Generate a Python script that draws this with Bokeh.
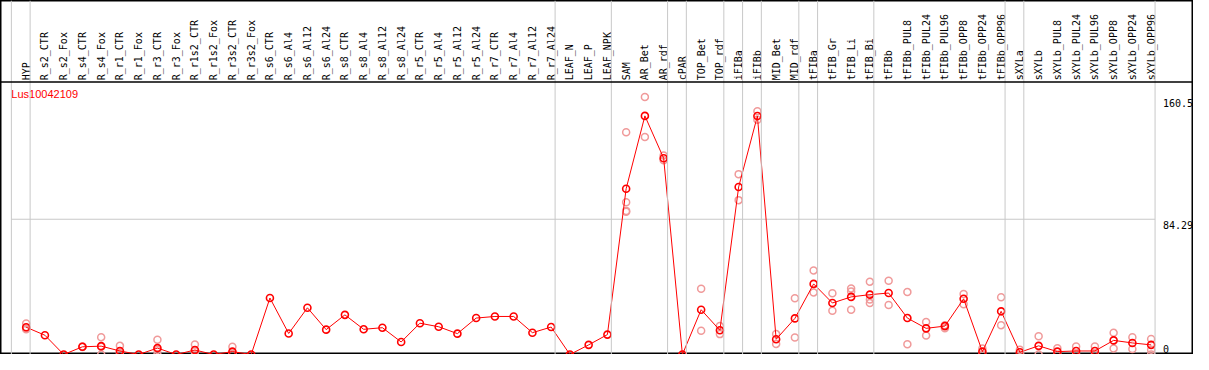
import numpy as np
from bokeh.plotting import figure
from bokeh.models import Range1d, Span, ColumnDataSource
from bokeh.core.properties import value
from bokeh.embed import file_html
from bokeh.resources import INLINE

GENE = "Lus10042109"

CATEGORIES = [
    "HYP", "R_s2_CTR", "R_s2_Fox", "R_s4_CTR", "R_s4_Fox", "R_r1_CTR", "R_r1_Fox",
    "R_r3_CTR", "R_r3_Fox", "R_r1s2_CTR", "R_r1s2_Fox", "R_r3s2_CTR", "R_r3s2_Fox",
    "R_s6_CTR", "R_s6_Al4", "R_s6_Al12", "R_s6_Al24", "R_s8_CTR", "R_s8_Al4",
    "R_s8_Al12", "R_s8_Al24", "R_r5_CTR", "R_r5_Al4", "R_r5_Al12", "R_r5_Al24",
    "R_r7_CTR", "R_r7_Al4", "R_r7_Al12", "R_r7_Al24", "LEAF_N", "LEAF_P", "LEAF_NPK",
    "SAM", "AR_Bet", "AR_rdf", "cPAR", "TOP_Bet", "TOP_rdf", "iFIBa", "iFIBb",
    "MID_Bet", "MID_rdf", "tFIBa", "tFIB_Gr", "tFIB_Li", "tFIB_Bi", "tFIBb",
    "tFIBb_PUL8", "tFIBb_PUL24", "tFIBb_PUL96", "tFIBb_OPP8", "tFIBb_OPP24",
    "tFIBb_OPP96", "sXYLa", "sXYLb", "sXYLb_PUL8", "sXYLb_PUL24", "sXYLb_PUL96",
    "sXYLb_OPP8", "sXYLb_OPP24", "sXYLb_OPP96",
]

MEANS = [
    17.0, 12.0, 0.0, 4.8, 5.2, 2.2, 0.0, 4.0, 0.0, 2.8, 0.0, 1.8, 0.0,
    35.2, 13.1, 29.1, 15.5, 24.7, 15.7, 16.7, 7.8, 19.5, 17.3, 13.0, 22.7,
    23.7, 23.7, 13.6, 17.1, 0.0, 6.0, 12.4,
    103.3, 148.7, 122.3, 0.0, 27.9, 15.1, 104.4, 148.6, 9.5, 22.5,
    44.0, 32.1, 35.9, 37.3, 38.3, 22.7, 16.3, 17.7, 34.7, 1.8, 26.9,
    1.4, 5.4, 1.8, 2.2, 2.2, 8.8, 7.2, 6.0,
]

REPLICATES = [
    [19.3, 15.7, 16.2], [], [], [4.6, 5.0], [10.8, 0.0, 4.8], [5.4, 0.0, 1.2], [],
    [9.2, 0.0, 2.8], [], [6.2, 0.0, 2.2], [], [4.8, 0.0, 0.6], [],
    [], [], [], [], [], [], [], [], [], [], [], [], [], [], [], [], [], [], [],
    [138.5, 94.9, 89.5, 89.0], [160.5, 135.5], [124.0, 121.0], [],
    [41.0, 14.8], [17.7, 12.7], [112.4, 96.2], [151.6, 146.3],
    [12.7, 6.6], [35.1, 10.6], [52.4, 38.7], [38.1, 27.3], [41.2, 39.2, 27.9],
    [45.4, 34.3, 32.1], [46.0, 30.9], [38.9, 6.4], [20.3, 11.8], [18.3, 16.3],
    [37.7, 31.3], [3.8, 0.0], [35.7, 18.3], [3.0, 0.0], [11.4, 0.0], [3.9, 0.0],
    [5.0, 0.0], [5.0, 0.0], [13.5, 3.8], [10.8, 3.4], [9.6, 3.0, 0.0],
]

GROUP_SIZES = [1, 28, 3, 3, 1, 2, 1, 1, 2, 1, 3, 7, 1, 7]
Y_TICKS = [0, 84.29, 160.5]
MID_TICK = [84.29]

# ---- layout constants ----
X_START, X_END = -1.37, 62.26
Y_START, Y_END = 0.0, 220.6
HEADER_LINE_Y = 169.75
HEADER_LABEL_Y = 170.9
SEP_OFFSET = 0.21
RED = "#ff0000"
PINK = "#f09a9a"
GRAY = "#c8c8c8"

xs = list(range(len(CATEGORIES)))

p = figure(width=1193, height=354, x_range=Range1d(X_START, X_END),
           y_range=Range1d(Y_START, Y_END), output_backend="svg",
           toolbar_location=None, min_border=0,
           x_axis_location=None, y_axis_location=None,
           outline_line_color="black", outline_line_width=2,
           background_fill_color="white", border_fill_color="white")
p.xgrid.visible = False
p.ygrid.visible = False

# group separators
bounds = [-1 + SEP_OFFSET] + list(np.cumsum(GROUP_SIZES) - 1 + SEP_OFFSET)
for b in bounds:
    p.add_layout(Span(location=float(b), dimension="height",
                      line_color=GRAY, line_width=1))

# horizontal reference line at the middle tick
p.segment(x0=[bounds[0]] * len(MID_TICK), y0=MID_TICK,
          x1=[bounds[-1]] * len(MID_TICK), y1=MID_TICK,
          line_color=GRAY, line_width=1)

# header separator
p.add_layout(Span(location=HEADER_LINE_Y, dimension="width",
                  line_color="black", line_width=1.5))

# category labels
p.text(x=xs, y=[HEADER_LABEL_Y] * len(xs), text=CATEGORIES, angle=np.pi / 2,
       text_font=value("DejaVu Sans Mono"), text_font_size="10px",
       text_align="left", text_baseline="middle", text_color="black")

# replicate points
rx, ry = [], []
for i, reps in enumerate(REPLICATES):
    for v in reps:
        rx.append(i)
        ry.append(v)
p.scatter(rx, ry, marker="circle", size=7, fill_color=None,
          line_color=PINK, line_width=1.5)

# mean line and points
src = ColumnDataSource(dict(x=xs, y=MEANS))
p.line("x", "y", source=src, line_color=RED, line_width=1)
p.scatter("x", "y", source=src, marker="circle", size=7, fill_color=None,
          line_color=RED, line_width=1.6)

# gene id
p.text(x=[bounds[0]], y=[HEADER_LINE_Y], text=[GENE], y_offset=6,
       text_font=value("Liberation Sans"), text_font_size="11px",
       text_align="left", text_baseline="top", text_color=RED)

# value ticks on the right
tick_x = 60.63
upper = [t for t in Y_TICKS if t > 0]
p.text(x=[tick_x] * len(upper), y=upper, text=[f"{t:g}" for t in upper],
       y_offset=2, text_font=value("DejaVu Sans Mono"), text_font_size="10px",
       text_align="left", text_baseline="top", text_color="black")
lower = [t for t in Y_TICKS if t == 0]
p.text(x=[tick_x] * len(lower), y=lower, text=[f"{t:g}" for t in lower],
       y_offset=-2, text_font=value("DejaVu Sans Mono"), text_font_size="10px",
       text_align="left", text_baseline="bottom", text_color="black")

open("out.html", "w").write(file_html(p, INLINE))
